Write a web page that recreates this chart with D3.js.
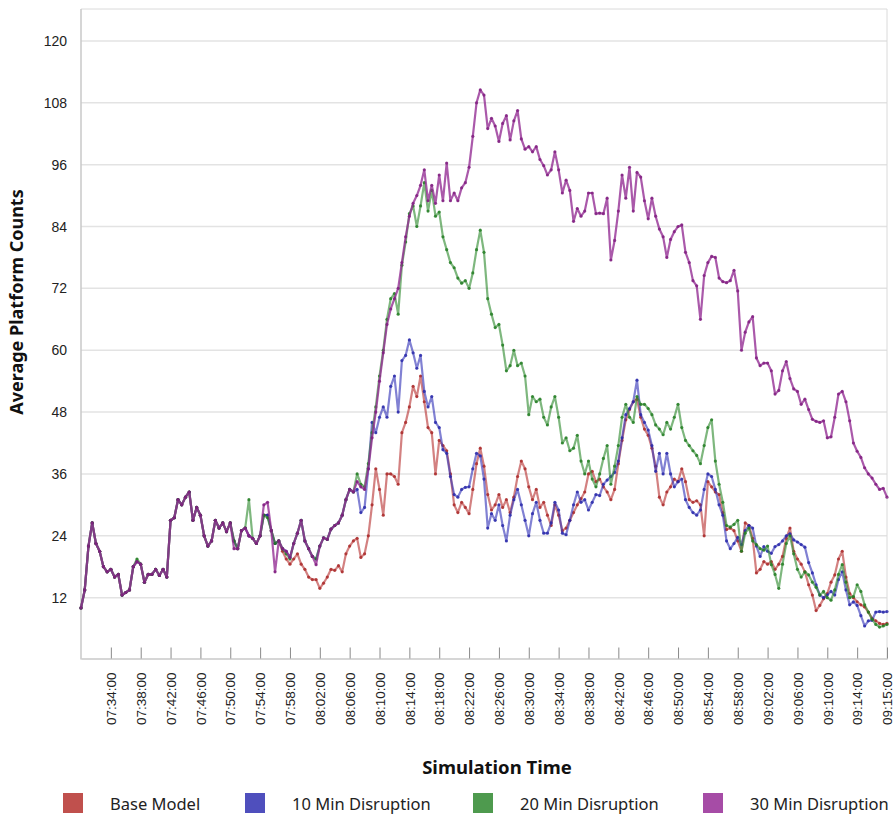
<!DOCTYPE html>
<html>
<head>
<meta charset="utf-8">
<script src="https://cdn.jsdelivr.net/npm/d3@7"></script>
<style>
  html, body { margin: 0; padding: 0; background: #fff; }
  svg { display: block; font-family: "Noto Sans", "Open Sans", sans-serif; }
</style>
</head>
<body>
<div id="chart"></div>
<script>
// minutes after 07:30:00, one sample every 30 s
const startMinute = 0;
const sampleStep = 0.5;

const seriesNames = ['Base Model', '10 Min Disruption', '20 Min Disruption', '30 Min Disruption'];

const baseModel = [
  10, 13.5, 22, 26.5, 22.5, 21, 18, 17, 17.5, 16, 16.5, 12.5, 13, 13.5, 18, 19, 18.5, 15, 16.5, 16.5,
  17.5, 16.3, 17.5, 16, 27, 27.5, 31, 30, 31.5, 32.5, 27, 29.5, 28, 24, 22, 23, 27, 25.5, 26.5, 24.8,
  26.5, 23, 21.5, 25, 25.5, 24, 23.5, 22.5, 24, 28, 28, 25, 22.5, 23, 21, 19.5,
  18.5, 19.5, 20.5, 18.5, 17.5, 16, 15.5, 15.5, 13.8, 14.8, 16, 17.5, 17.3, 18.2, 17, 20.5, 22, 23, 23.5, 19.8,
  20.5, 24, 30, 37, 33, 28, 36, 36, 35.5, 34, 44, 46, 49, 53, 51, 55, 50, 45, 44, 36,
  42.5, 41.5, 40.5, 36, 30, 28.5, 30.5, 29.5, 28.3, 33, 38, 41, 37.5, 32, 29, 30, 32, 29.5, 31, 28.5,
  31.5, 35.5, 38.5, 37, 33.5, 31, 33, 29.5, 30.5, 28, 26, 30, 28, 25, 25.5, 27, 28.5, 30, 31.2, 32.5,
  36, 36.5, 34.5, 35, 33.5, 32.5, 31, 33, 38, 42.5, 46.5, 48.5, 50, 50.5, 47, 44.7, 43.5, 41, 37.5, 31.5,
  30, 32.5, 33.5, 35, 34.5, 37, 34.5, 31, 30.5, 30.8, 30, 24, 34.5, 33.5, 32.5, 32, 28.5, 25.2, 25.5, 25,
  23, 21, 26.5, 26, 23.5, 16.8, 17.5, 19, 18.5, 19, 17.5, 18.5, 20, 23.5, 25.5, 21, 19.5, 18.5, 17, 14.5,
  12.5, 9.5, 10.5, 11.8, 12.8, 15, 16.4, 19.5, 21, 16, 12.8, 12, 11.2, 10.6, 10.2, 9.2, 8, 7.5, 7, 6.8,
  7
];

const disruption10 = [
  10, 13.5, 22, 26.5, 22.5, 21, 18, 17, 17.5, 16, 16.5, 12.5, 13, 13.5, 18, 19, 18.5, 15, 16.5, 16.5,
  17.5, 16.3, 17.5, 16, 27, 27.5, 31, 30, 31.5, 32.5, 27, 29.5, 28, 24, 22, 23, 27, 25.5, 26.5, 24.8,
  26.5, 23, 21.5, 25, 25.5, 24, 23.5, 22.5, 24, 28, 28, 25, 22.5, 23, 21.5, 21,
  19.8, 22.5, 24.5, 27, 23, 21.5, 20, 19.5, 22, 23.6, 23.3, 25.3, 26, 26.5, 28, 31, 33, 32.5, 33, 28.5,
  29.5, 37, 46, 44, 47, 49, 47, 53, 55, 48, 58, 59, 62, 59.5, 56.5, 59, 52, 49, 51, 46,
  45, 40.7, 40, 35.5, 32, 31.5, 33, 33.4, 33.5, 37, 40, 39.5, 35, 25.5, 28.3, 27, 30, 26, 23, 28,
  31, 33, 30, 27, 24, 28.3, 30.5, 27, 24.5, 24.5, 26.5, 30.5, 29, 24.5, 24.2, 27, 30, 32.5, 30.5, 31,
  29, 30.5, 32, 31.8, 34, 34.8, 35.5, 36.3, 38.5, 43, 47.5, 48.7, 50, 54.2, 47.5, 46, 44.5, 41.5, 36.5, 40,
  36, 40, 36, 33.5, 34.5, 35, 31, 29.5, 28.5, 28, 29, 33, 36, 35.5, 33, 30, 28, 23, 21.5, 22.5,
  23.7, 22.3, 25, 26, 25.5, 22, 20, 21.9, 21, 20.6, 21.9, 22.3, 23, 24, 24.4, 23.2, 22.8, 22.3, 21.8, 18.8,
  16.8, 14.5, 12.5, 12, 12.5, 13.2, 12.5, 15.5, 17, 13.5, 10.6, 11.2, 10.5, 8.5, 6.5, 7.5, 7.6, 9.2, 9.3, 9.2,
  9.3
];

const disruption20 = [
  10, 13.5, 22, 26.5, 22.5, 21, 18, 17, 17.5, 16, 16.5, 12.5, 13, 13.5, 18, 19.5, 18.5, 15, 16.5, 16.5,
  17.5, 16.3, 17.5, 16, 27, 27.5, 31, 30, 31.5, 32.5, 27, 29.5, 28, 24, 22, 23, 27, 25.5, 26.5, 24.8,
  26.5, 23, 21.5, 25, 25.5, 31, 23.5, 22.5, 24, 28, 27.5, 25, 22.5, 23, 21.5, 20.5,
  19.5, 22.5, 24.5, 27, 23, 21.5, 20, 19.5, 22, 23.6, 23.3, 25.3, 26, 26.5, 28, 31, 33, 32.5, 36, 34,
  33.5, 38, 44, 49, 55, 60, 66, 70, 71, 67, 76.5, 81, 86.5, 88, 84, 88, 92.5, 87, 91, 86,
  86.8, 82, 79.5, 77, 76, 74, 73, 73.5, 72, 75, 79.5, 83.3, 79, 70, 67, 64.4, 65, 61, 56, 57,
  60, 57, 57.5, 55, 47.5, 51, 50, 50.5, 47, 45.5, 49, 51, 47, 42, 43, 40.5, 41, 43.5, 38.5, 36,
  38.5, 35, 33.5, 36, 39, 41.5, 34, 37.5, 41.5, 47, 49.5, 47, 46, 51, 49.5, 49.5, 48.7, 47.5, 45.5, 44.7,
  43.6, 46, 44.7, 47, 49.5, 45, 42.5, 41.5, 40.5, 39.6, 38, 41.5, 45, 46.5, 38.5, 34, 30.5, 26, 25.7, 26.2,
  27, 21, 24.5, 25.5, 23, 22.3, 21.5, 21.2, 22, 18.4, 16.5, 13.8, 18.5, 22.5, 24, 20.5, 17.5, 16, 17, 16.4,
  15, 14, 12.5, 13.2, 12, 11.5, 13.5, 16.5, 18.4, 15, 12, 12.2, 14.5, 13.2, 10.6, 9.2, 7.8, 6.8, 6.3, 6.5,
  6.8
];

const disruption30 = [
  10, 13.5, 22, 26.5, 22.5, 21, 18, 17, 17.5, 16, 16.5, 12.5, 13, 13.5, 18, 19, 18.5, 15, 16.5, 16.5,
  17.5, 16.3, 17.5, 16, 27, 27.5, 31, 30, 31.5, 32.5, 27, 29.5, 28, 24, 22, 23, 27, 25.5, 26.5, 24.8,
  26.5, 21.5, 21.5, 25, 25.5, 24, 23.5, 22.5, 24, 30, 30.5, 25, 17, 23, 21.5, 21,
  19.8, 22.5, 24.5, 27, 23, 21.5, 20, 18.4, 22, 23.6, 23.3, 25.3, 26, 26.5, 28, 31, 33, 32.5, 34.5, 33.5,
  33, 37, 43, 48, 54, 59.5, 65, 68, 70, 72, 77, 82, 86, 88.5, 90, 92, 95, 89, 92, 88.5,
  94, 89, 96.3, 89, 90.5, 89, 91.5, 92.5, 95.5, 101.5, 108, 110.5, 109.5, 103, 105, 103.5, 100.5, 104, 105.5, 100.8,
  104.5, 106.5, 101, 99, 99.5, 98.5, 99.5, 97, 95.8, 94, 95, 98.5, 95, 90.5, 93, 91, 85, 87.5, 86, 87,
  90.5, 90.5, 86.5, 86.6, 86.5, 89.5, 77.5, 81.3, 87, 94, 89.5, 95.5, 87, 94.5, 93.6, 89, 85.5, 89.5, 86, 83.5,
  82, 78, 81.5, 83, 84, 84.3, 79, 77, 73.5, 72.5, 66, 74.5, 77, 78.2, 78, 74, 73.3, 73.1, 73.5, 75.5,
  71.5, 60, 63.5, 65.5, 66.5, 58.5, 57, 57.5, 57.5, 56, 51.5, 52.2, 56, 57.8, 54.5, 52.5, 52, 49.5, 50.5, 48.5,
  46.6, 46.2, 46, 46.3, 43, 43.2, 47, 51.5, 52, 50, 46.3, 42, 40.4, 39.2, 37.2, 36, 35.2, 34, 33, 33.2,
  31.5
];

const yTicks = [12, 24, 36, 48, 60, 72, 84, 96, 108, 120];
const xTickMinutes = [4, 8, 12, 16, 20, 24, 28, 32, 36, 40, 44, 48, 52, 56, 60, 64, 68, 72, 76, 80, 84, 88, 92, 96, 100, 104, 108];
const xTickLabels = ['07:34:00', '07:38:00', '07:42:00', '07:46:00', '07:50:00', '07:54:00', '07:58:00', '08:02:00', '08:06:00',
  '08:10:00', '08:14:00', '08:18:00', '08:22:00', '08:26:00', '08:30:00', '08:34:00', '08:38:00', '08:42:00', '08:46:00',
  '08:50:00', '08:54:00', '08:58:00', '09:02:00', '09:06:00', '09:10:00', '09:14:00', '09:15:00'];

const lineColors = ['#b83434', '#3434b8', '#2f8a2f', '#922a92'];
const dotColors = ['#a82424', '#2424a8', '#1f7a1f', '#7e1c7e'];
const lineOpacity = [0.62, 0.62, 0.62, 0.78];
const swatchColors = ['#c0504d', '#4f4fbd', '#4e9a4e', '#a64ca6'];

const width = 895;
const height = 815;
const margin = { top: 9, right: 8, bottom: 156, left: 81 };

const svg = d3.select('#chart')
  .append('svg')
  .attr('width', width)
  .attr('height', height);

const x = d3.scaleLinear()
  .domain([0, 108])
  .range([margin.left, width - margin.right]);

const y = d3.scaleLinear()
  .domain([0, 126.2])
  .range([659.5, margin.top]);

// grid
svg.append('g')
  .selectAll('line')
  .data(yTicks)
  .join('line')
  .attr('x1', x(0))
  .attr('x2', x(108))
  .attr('y1', d => y(d))
  .attr('y2', d => y(d))
  .attr('stroke', '#e3e3e3')
  .attr('stroke-width', 1.5);

// frame top/right
svg.append('path')
  .attr('d', `M${x(0)},${margin.top}H${x(108)}V${y(0)}`)
  .attr('fill', 'none')
  .attr('stroke', '#dadada')
  .attr('stroke-width', 1);

// y axis
svg.append('g')
  .attr('transform', `translate(${x(0)},0)`)
  .call(d3.axisLeft(y).tickValues(yTicks).tickSize(0).tickPadding(14))
  .call(g => g.select('.domain').attr('d', `M0,${margin.top}V${y(0)}`).attr('stroke', '#c8c8c8').attr('stroke-width', 1.5))
  .call(g => g.selectAll('text').attr('fill', '#222').style('font-size', '14px'));

// x axis, ticks pointing inward
const labelOf = new Map(xTickMinutes.map((m, i) => [m, xTickLabels[i]]));
svg.append('g')
  .attr('transform', `translate(0,${y(0) - 1})`)
  .call(d3.axisBottom(x)
    .tickValues(xTickMinutes)
    .tickFormat(d => labelOf.get(d))
    .tickSizeInner(-11)
    .tickSizeOuter(0))
  .call(g => g.select('.domain').attr('stroke', '#c8c8c8').attr('stroke-width', 1.5))
  .call(g => g.selectAll('.tick line').attr('stroke', '#8a8a8a'))
  .call(g => g.selectAll('text')
    .attr('fill', '#222')
    .style('font-size', '13.5px')
    .attr('text-anchor', 'end')
    .attr('transform', 'rotate(-90)')
    .attr('x', -14)
    .attr('y', 0)
    .attr('dy', '0.35em'));

// series
const allSeries = [baseModel, disruption10, disruption20, disruption30];
const line = d3.line()
  .x((d, i) => x(startMinute + i * sampleStep))
  .y(d => y(d));

allSeries.forEach((values, k) => {
  const g = svg.append('g');
  g.append('path')
    .datum(values)
    .attr('fill', 'none')
    .attr('stroke', lineColors[k])
    .attr('stroke-opacity', lineOpacity[k])
    .attr('stroke-width', 2.2)
    .attr('stroke-linejoin', 'round')
    .attr('d', line);
  g.selectAll('circle')
    .data(values)
    .join('circle')
    .attr('cx', (d, i) => x(startMinute + i * sampleStep))
    .attr('cy', d => y(d))
    .attr('r', 1.6)
    .attr('fill', dotColors[k])
    .attr('fill-opacity', 0.8);
});

// axis titles
svg.append('text')
  .attr('transform', `translate(23,302) rotate(-90)`)
  .attr('text-anchor', 'middle')
  .style('font-size', '18px')
  .style('font-weight', 'bold')
  .attr('fill', '#111')
  .text('Average Platform Counts');

svg.append('text')
  .attr('x', 497)
  .attr('y', 774)
  .attr('text-anchor', 'middle')
  .style('font-size', '18.5px')
  .style('font-weight', 'bold')
  .attr('fill', '#111')
  .text('Simulation Time');

// legend
const legendX = [63, 245, 473, 703];
const legend = svg.append('g');
seriesNames.forEach((name, k) => {
  legend.append('rect')
    .attr('x', legendX[k])
    .attr('y', 793)
    .attr('width', 20)
    .attr('height', 20)
    .attr('fill', swatchColors[k]);
  legend.append('text')
    .attr('x', legendX[k] + 47)
    .attr('y', 810)
    .style('font-size', '16.5px')
    .attr('fill', '#222')
    .text(name);
});
</script>
</body>
</html>
